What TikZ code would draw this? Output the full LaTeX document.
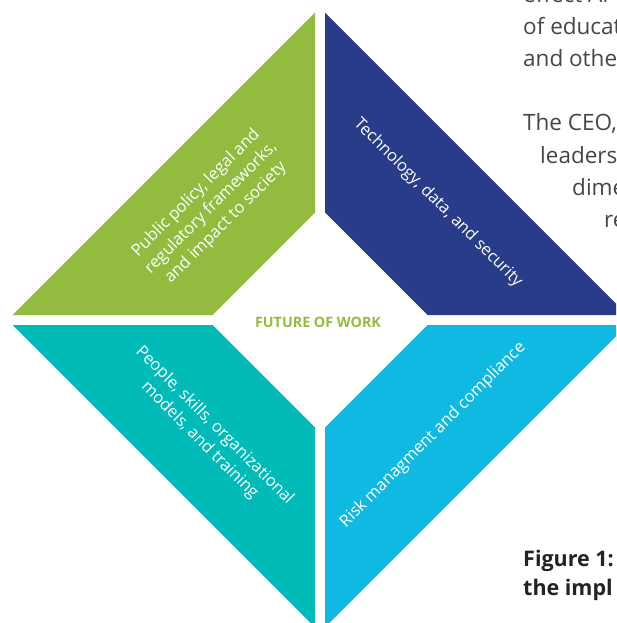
\documentclass[tikz,border=0pt]{standalone}
\usepackage{fontspec}
\setmainfont{Open Sans}
\definecolor{qgreen}{RGB}{146,187,63}
\definecolor{qnavy}{RGB}{40,60,138}
\definecolor{qteal}{RGB}{0,187,184}
\definecolor{qsky}{RGB}{16,185,226}
\definecolor{bodygray}{RGB}{70,70,70}
\definecolor{headdark}{RGB}{35,35,35}
\begin{document}
\begin{tikzpicture}[x=1pt,y=-1pt,
  qlabel/.style={text=white,align=center,inner sep=0pt,
    font=\fontsize{16.5}{21}\selectfont},
  bodytext/.style={anchor=base west,inner sep=0pt,text=bodygray,
    font=\fontsize{22.5}{32}\selectfont},
  headtext/.style={anchor=base west,inner sep=0pt,text=headdark,
    font=\fontsize{21.5}{29}\selectfont\bfseries}]
\useasboundingbox (0,0) rectangle (616,623);
\clip (0,0) rectangle (616,623);

% four quadrants of the diamond, centred at (320,320)
\begin{scope}[shift={(320,320)}]
  \fill[qgreen] (-307.3,-5) -- (-5,-307.3) -- (-5,-107.5) -- (-107.5,-5) -- cycle;
  \fill[qnavy]  (5,-307.3) -- (307.3,-5) -- (107.5,-5) -- (5,-107.5) -- cycle;
  \fill[qteal]  (-307.3,5) -- (-107.5,5) -- (-5,107.5) -- (-5,307.3) -- cycle;
  \fill[qsky]   (307.3,5) -- (107.5,5) -- (5,107.5) -- (5,307.3) -- cycle;
\end{scope}

% quadrant labels
\node[qlabel,rotate=45] (policy) at (211,208)
  {Public policy, legal and\\regulatory frameworks,\\and impact to society};
\node[qlabel,rotate=-45] (tech) at (438,203) {Technology, data, and security};
\node[qlabel,rotate=-45] (people) at (207,433)
  {People, skills, organizational\\models, and training};
\node[qlabel,rotate=45] (risk) at (433,435) {Risk managment and compliance};

% centre title
\node[text=qgreen,inner sep=0pt,font=\fontsize{14.3}{17}\selectfont\bfseries]
  (future) at (318,322) {FUTURE OF WORK};

% body text wrapping round the diamond
\node[bodytext] (b1) at (523,3) {effect AI};
\node[bodytext] (b2) at (523,35) {of educat};
\node[bodytext] (b3) at (523,67) {and other};
\node[bodytext] (b4) at (523,131) {The CEO,};
\node[bodytext] (b5) at (540,163) {leaders};
\node[bodytext] (b6) at (572,195) {dime};
\node[bodytext] (b7) at (604,227) {re};

% figure heading
\node[headtext] (h1) at (523,566) {Figure 1:};
\node[headtext] (h2) at (523,595) {the impl};
\end{tikzpicture}
\end{document}
